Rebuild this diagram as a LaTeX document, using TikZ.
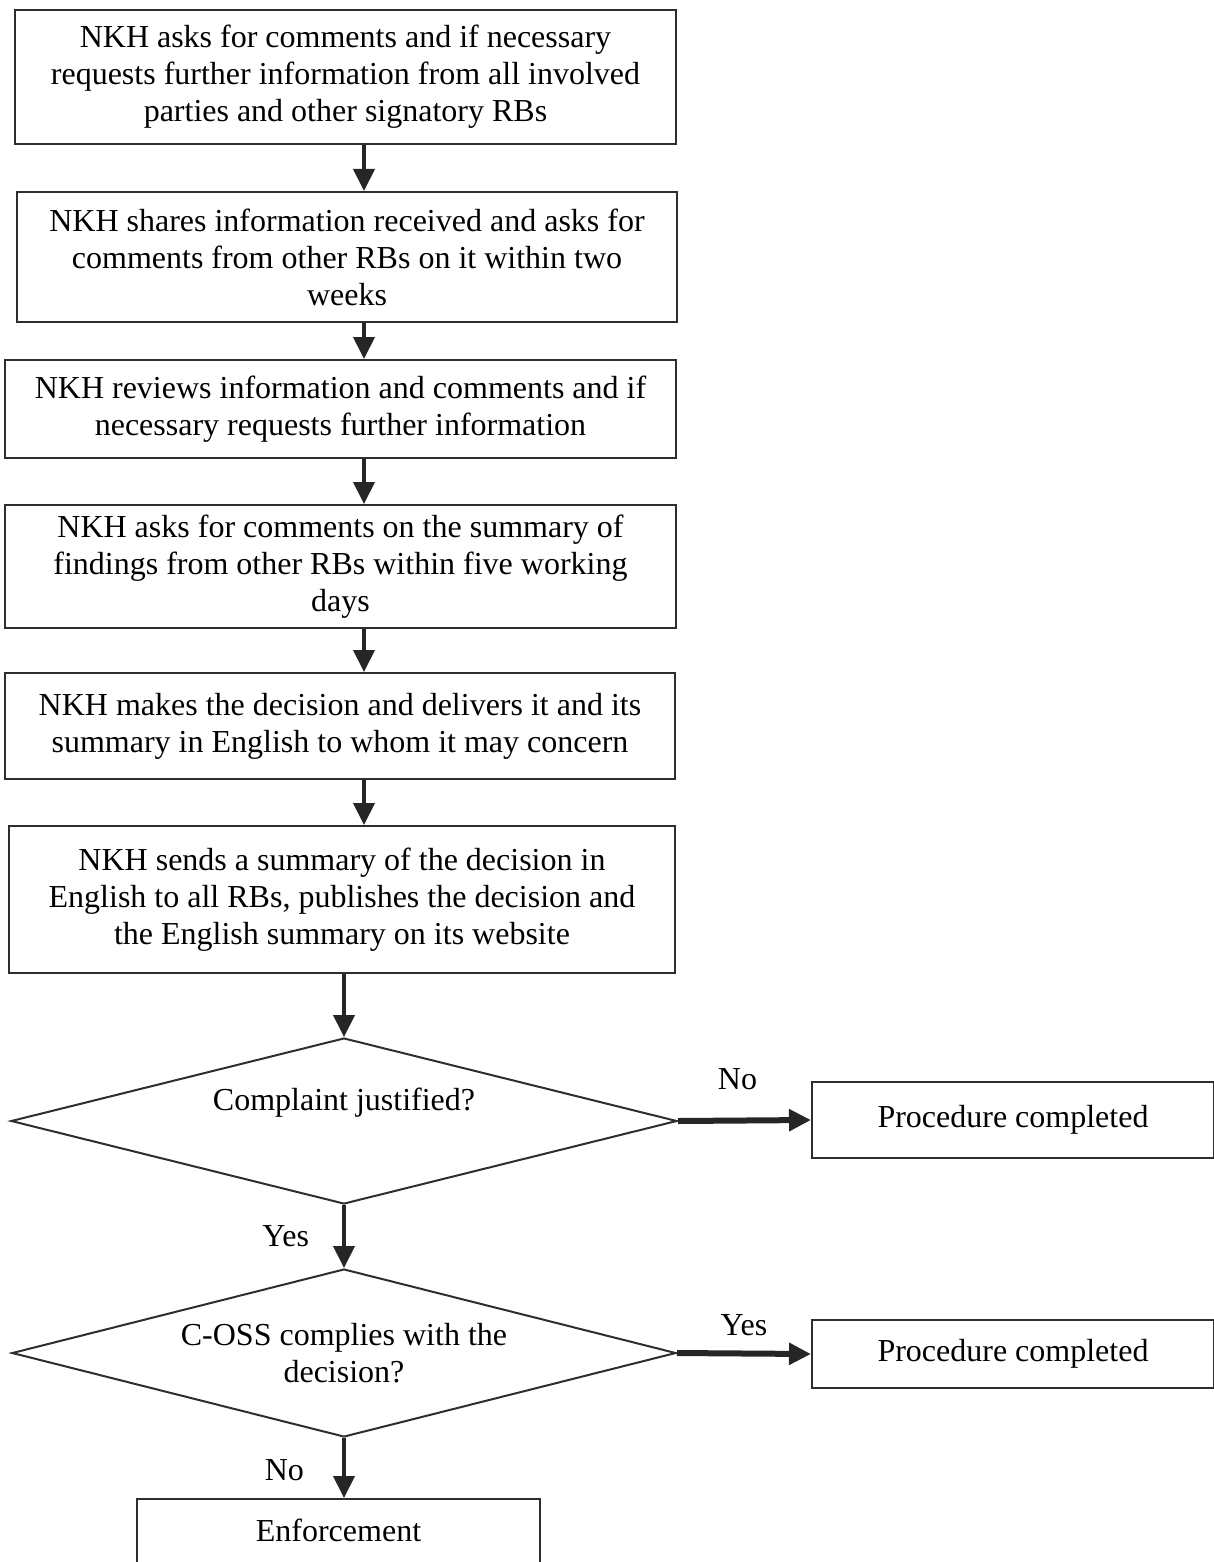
\documentclass[tikz,border=0pt]{standalone}
\usepackage{fontspec}
\setmainfont{Liberation Serif}
\usetikzlibrary{shapes.geometric, arrows.meta, positioning}
\definecolor{linegray}{HTML}{2E2E2E}
\definecolor{arrowgray}{HTML}{262626}
\newcommand{\flowfont}{\fontsize{32}{37}\selectfont}

\tikzset{
  stepbox/.style={draw=linegray, line width=2pt, align=center, inner sep=0pt, font=\flowfont},
  query/.style={diamond, draw=linegray, line width=2pt, align=center, inner sep=0pt, font=\flowfont},
  flow/.style={draw=arrowgray, line width=4pt, -{Triangle[length=22pt, width=21pt]}},
  flowbold/.style={flow, line width=6pt},
  tag/.style={inner sep=0pt, font=\flowfont}
}

\begin{document}
\begin{tikzpicture}[x=1pt, y=-1pt]
  \useasboundingbox (0,0) rectangle (1214,1562);
  \coordinate (spine) at (364,0);

  % steps
  \node[stepbox, minimum width=661pt, minimum height=134pt] (ask) at (345.5,77)
    {NKH asks for comments and if necessary\\requests further information from all involved\\parties and other signatory RBs};
  \node[stepbox, minimum width=660pt, minimum height=130pt] (share) at (347,257)
    {NKH shares information received and asks for\\comments from other RBs on it within two\\weeks};
  \node[stepbox, minimum width=671pt, minimum height=98pt] (review) at (340.5,409)
    {NKH reviews information and comments and if\\necessary requests further information};
  \node[stepbox, minimum width=671pt, minimum height=123pt] (findings) at (340.5,566.5)
    {NKH asks for comments on the summary of\\findings from other RBs within five working\\days};
  \node[stepbox, minimum width=670pt, minimum height=106pt] (decide) at (340,726)
    {NKH makes the decision and delivers it and its\\summary in English to whom it may concern};
  \node[stepbox, minimum width=666pt, minimum height=147pt] (publish) at (342,899.5)
    {NKH sends a summary of the decision in\\English to all RBs, publishes the decision and\\the English summary on its website};

  % decisions
  \node[query, aspect=4.01, minimum width=666pt, minimum height=166pt] (justified) at (344,1121)
    {\raisebox{44pt}{Complaint justified?}};
  \node[query, aspect=3.95, minimum width=664pt, minimum height=168pt] (complies) at (344,1353)
    {C-OSS complies with the\\decision?};

  % outcomes
  \node[stepbox, minimum width=402pt, minimum height=76pt] (done1) at (1013,1120) {Procedure completed};
  \node[stepbox, minimum width=402pt, minimum height=68pt] (done2) at (1013,1354) {Procedure completed};
  \node[stepbox, minimum width=403pt, minimum height=101pt] (enforce) at (338.5,1549.5)
    {\raisebox{39pt}{Enforcement}};

  % connectors
  \draw[flow] (ask.south -| spine) -- (share.north -| spine);
  \draw[flow] (share.south -| spine) -- (review.north -| spine);
  \draw[flow] (review.south -| spine) -- (findings.north -| spine);
  \draw[flow] (findings.south -| spine) -- (decide.north -| spine);
  \draw[flow] (decide.south -| spine) -- (publish.north -| spine);
  \draw[flow] (publish.south -| justified.north) -- (justified.north);
  \draw[flowbold] (justified.east) -- node[tag, above=28pt, xshift=-7pt] {No} (done1.west);
  \draw[flow] (justified.south) -- node[tag, left=33pt] {Yes} (complies.north);
  \draw[flowbold] (complies.east) -- node[tag, above=15pt] {Yes} (done2.west);
  \draw[flow] (complies.south) -- node[tag, left=38pt, yshift=-2pt] {No} (enforce.north -| complies.south);
\end{tikzpicture}
\end{document}
